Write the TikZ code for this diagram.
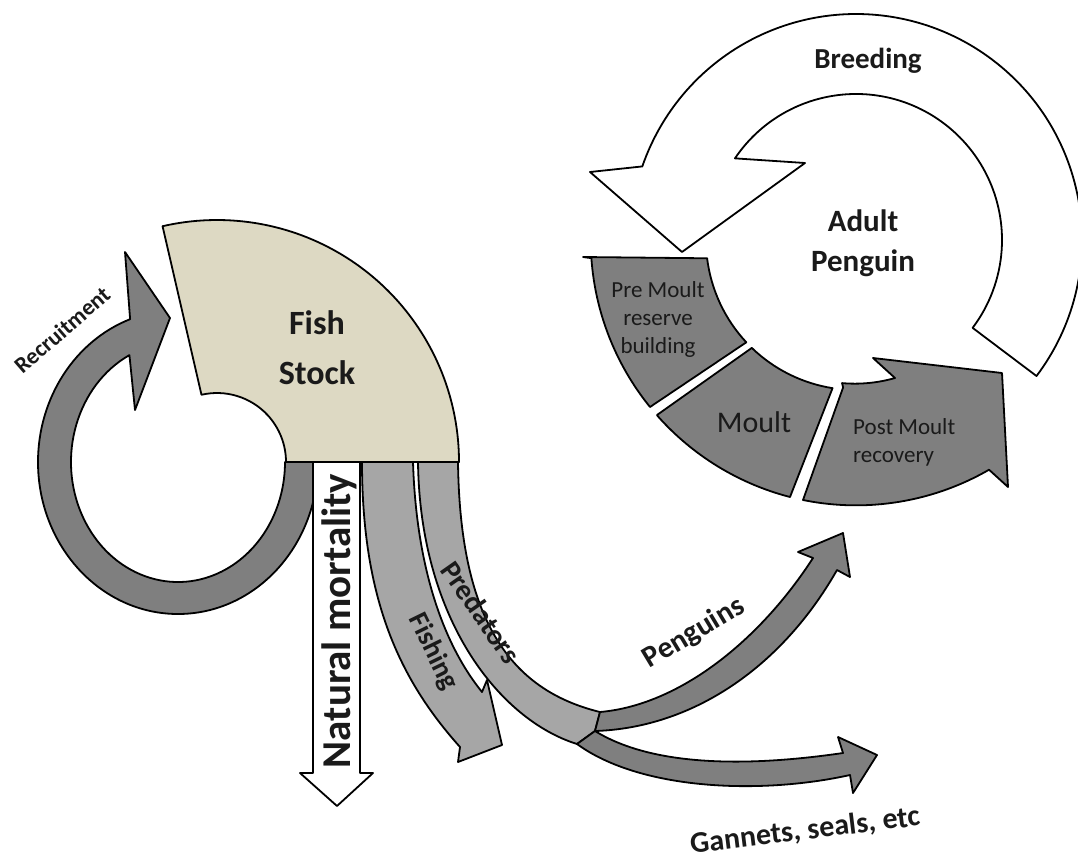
\documentclass[tikz,border=0pt]{standalone}
\usepackage{fontspec}
\setmainfont{Carlito}
\usetikzlibrary{calc}
\definecolor{stockfill}{HTML}{DDD9C3}
\definecolor{darkgrey}{HTML}{7F7F7F}
\definecolor{lightgrey}{HTML}{A6A6A6}
\definecolor{ink}{HTML}{1A1A1A}

\begin{document}
\begin{tikzpicture}[
		x=1pt, y=-1pt,
		block/.style={draw=black, line width=1.8pt, line join=round},
		darkblock/.style={block, fill=darkgrey},
		lightblock/.style={block, fill=lightgrey},
		whiteblock/.style={block, fill=white},
		stockblock/.style={block, fill=stockfill},
		lbl/.style={inner sep=0pt, text=ink}
	]
		\useasboundingbox[fill=white] (0,0) rectangle (1078,865);
		\coordinate (fishc) at (217,462);
		\coordinate (ringc) at (178,462);
		\coordinate (penc) at (856,240);

		\draw[darkblock] ($(ringc)+(0:140 and 152)$)
			arc[start angle=0, end angle=250, x radius=140, y radius=152]
			-- (125,252) -- (170,318) -- (135,410) -- ($(ringc)+(243:107 and 120)$)
			arc[start angle=243, end angle=0, x radius=107, y radius=120] -- cycle;
		\draw[stockblock] ($(fishc)+(0:242)$) arc[start angle=0, end angle=-103, radius=242]
			-- ($(fishc)+(-103:69)$) arc[start angle=-103, end angle=0, radius=69] -- cycle;
		\draw[whiteblock] (313,462) -- (313,773) -- (300,773) -- (337,806)
			-- (373,773) -- (360,773) -- (360,462) -- cycle;
		\draw[lightblock] (362,462) .. controls (362,600) and (400,680) .. (460,747)
			-- (458,762) -- (502,745) -- (487,680) -- (482,692)
			.. controls (440,640) and (416,560) .. (413,462) -- cycle;
		\draw[lightblock] (418,462) .. controls (420,620) and (500,720) .. (577,744)
			-- (595,731) -- (600,712)
			.. controls (510,690) and (460,620) .. (458,462) -- cycle;
		\draw[darkblock] (600,712) .. controls (680,705) and (760,640) .. (813,558)
			-- (798,552) -- (843,533) -- (850,577) -- (837,570)
			.. controls (780,670) and (690,728) .. (595,731) -- cycle;
		\draw[darkblock] (595,731) .. controls (650,765) and (740,768) .. (843,753)
			-- (838,737) -- (877,755) -- (853,793) -- (850,775)
			.. controls (760,795) and (640,790) .. (577,744) -- cycle;

		\draw[whiteblock] ($(penc)+(37:226)$) arc[start angle=37, end angle=-161, radius=226]
			-- (590,172) -- (682,252) -- (805,163) -- ($(penc)+(-146:146)$)
			arc[start angle=-146, end angle=37, radius=146] -- cycle;
		\draw[darkblock] (583,257) -- ($(penc)+(173:150)$) arc[start angle=173, end angle=137, radius=150]
			-- (650,407) arc[start angle=141, end angle=176, radius=266] -- cycle;
		\draw[darkblock] (657,415) -- ($(penc)+(134:150)$) arc[start angle=134, end angle=99, radius=150]
			-- (790,497) arc[start angle=104.5, end angle=138.5, radius=266] -- cycle;
		\draw[darkblock] ($(penc)+(95:148)$) -- (803,500) arc[start angle=101.5, end angle=60, radius=266]
			-- (1008,487) -- (1002,373) -- (873,358) -- (895,378)
			arc[start angle=74, end angle=95, radius=146] -- cycle;

		\node[lbl, align=center, font=\bfseries\fontsize{34}{50}\selectfont] (fish) at (317,348) {Fish\\Stock};
		\node[lbl, rotate=41, font=\bfseries\fontsize{23}{28}\selectfont] (recruit) at (62,330) {Recruitment};
		\node[lbl, rotate=90, anchor=base, font=\bfseries\fontsize{41}{48}\selectfont] (natmort) at (350,621) {Natural mortality};
		\node[lbl, rotate=-64, font=\bfseries\fontsize{28}{34}\selectfont] (fishing) at (433,652) {Fishing};
		\node[lbl, rotate=-55, font=\bfseries\fontsize{29}{34}\selectfont] (predators) at (481,612) {Predators};
		\node[lbl, rotate=31, font=\bfseries\fontsize{30}{36}\selectfont] (penguins) at (694,633) {Penguins};
		\node[lbl, rotate=7, font=\bfseries\fontsize{30}{36}\selectfont] (gannets) at (805,831) {Gannets, seals, etc};
		\node[lbl, anchor=base, font=\bfseries\fontsize{29}{34}\selectfont] (breeding) at (868,68) {Breeding};
		\node[lbl, align=center, font=\bfseries\fontsize{31}{40}\selectfont] (adult) at (863,243) {Adult\\Penguin};
		\node[lbl, align=center, font=\fontsize{23}{28}\selectfont] (premoult) at (658,319) {Pre Moult\\reserve\\building};
		\node[lbl, anchor=base, font=\fontsize{30}{36}\selectfont] (moult) at (754,432) {Moult};
		\node[lbl, anchor=west, align=left, font=\fontsize{23}{28}\selectfont] (postmoult) at (853,442) {Post Moult\\recovery};
	\end{tikzpicture}
\end{document}
